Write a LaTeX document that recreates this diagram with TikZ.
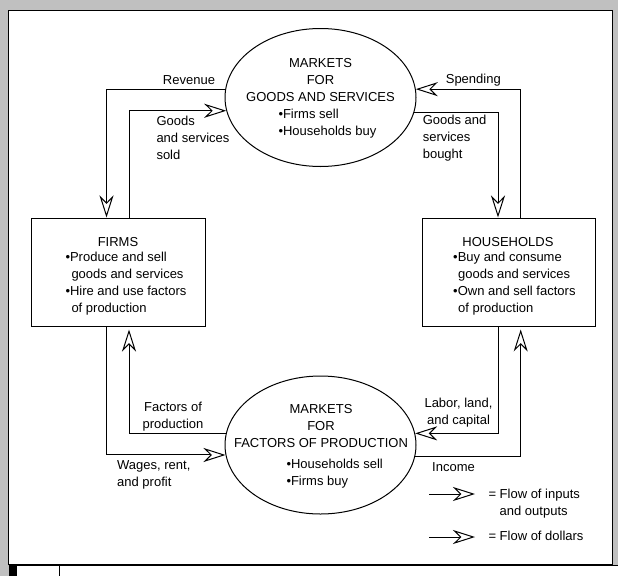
\documentclass[tikz,border=0pt]{standalone}
\usepackage{fontspec}
\setmainfont{Liberation Sans}
\usetikzlibrary{shapes.geometric,arrows.meta}
\definecolor{wingray}{RGB}{192,192,192}

\begin{document}
\begin{tikzpicture}[x=1pt,y=-1pt,line width=1pt,
		txt/.style={inner sep=0pt,font=\fontsize{13}{17}\selectfont},
		market/.style={ellipse,draw,inner sep=0pt,minimum width=191pt,minimum height=138pt},
		agent/.style={rectangle,draw,inner sep=0pt,minimum width=173.5pt,minimum height=108pt},
		flow/.style={-{Stealth[length=22pt,width=14pt,inset=7pt,fill=white]}}]
			\useasboundingbox (0,0) rectangle (618,576);
			\fill[wingray] (0,0) rectangle (618,576);
			\draw[fill=white] (8.5,10) rectangle (612,564);
			\fill[white] (8.5,565) rectangle (618,576);
			\draw (8.5,565) -- (618,565);
			\fill (8.5,565) rectangle (17,576);
			\draw (59,565) -- (59,576);

			% markets and agents
			\node[market] (goodsmk) at (320.5,97.5) {};
			\node[market] (factmk) at (320.5,445) {};
			\node[agent] (firms) at (118.25,272) {};
			\node[agent] (hh) at (509,272) {};

			\node[txt,align=center] (goodshd) at (320.5,80.5) {MARKETS\\FOR\\GOODS AND SERVICES};
			\node[txt,align=left,anchor=west] (goodsls) at (278,124) {•Firms sell\\•Households buy};
			\node[txt,align=center] (facthd) at (321,426.5) {MARKETS\\FOR\\FACTORS OF PRODUCTION};
			\node[txt,align=left,anchor=west] (factls) at (286,474) {•Households sell\\•Firms buy};

			\node[txt] (firmshd) at (118,242) {FIRMS};
			\node[txt,align=left,anchor=west] (firmsls) at (65,284) {•Produce and sell\\\hspace*{6pt}goods and services\\•Hire and use factors\\\hspace*{6pt}of production};
			\node[txt] (hhhd) at (508,242) {HOUSEHOLDS};
			\node[txt,align=left,anchor=west] (hhls) at (452.7,284) {•Buy and consume\\\hspace*{5pt}goods and services\\•Own and sell factors\\\hspace*{5pt}of production};

			% flow labels
			\node[txt] (revenue) at (189,80.5) {Revenue};
			\node[txt] (spending) at (473.3,80.5) {Spending};
			\node[txt,align=left,anchor=west] (sold) at (156,138) {Goods\\and services\\sold};
			\node[txt,align=left,anchor=west] (bought) at (422.3,138) {Goods and\\services\\bought};
			\node[txt,align=center] (factors) at (173,417) {Factors of\\production};
			\node[txt,align=center] (labor) at (458.5,413) {Labor, land,\\and capital};
			\node[txt,align=left,anchor=west] (wages) at (116.7,475) {Wages, rent,\\and profit};
			\node[txt,anchor=west] (income) at (431.7,466.7) {Income};

			% loop lines
			\coordinate (lx1) at (106.5,0);
			\coordinate (lx2) at (129,0);
			\coordinate (rx1) at (498,0);
			\coordinate (rx2) at (520.7,0);

			\draw[flow] (goodsmk.175) -| (lx1 |- firms.north);
			\draw[flow] (lx2 |- firms.north) |- (goodsmk.188.5);
			\draw[flow] (goodsmk.351.5) -| (rx1 |- hh.north);
			\draw[flow] (rx2 |- hh.north) |- (goodsmk.5);
			\draw[flow,shorten >=3pt] (factmk.173) -| (lx2 |- firms.south);
			\draw[flow] (lx1 |- firms.south) |- (factmk.186.7);
			\draw[flow] (rx1 |- hh.south) |- (factmk.7);
			\draw[flow,shorten >=3pt] (factmk.353.3) -| (rx2 |- hh.south);

			% legend
			\coordinate (lgin) at (429,494);
			\coordinate (lginend) at (475,494);
			\coordinate (lgdol) at (429,537);
			\coordinate (lgdolend) at (475,537);
			\draw[flow] (lgin) -- (lginend);
			\draw[flow] (lgdol) -- (lgdolend);
			\node[txt,align=left,anchor=west] (lgintxt) at (488,504) {= Flow of inputs\\\phantom{= }and outputs};
			\node[txt,anchor=west] (lgdoltxt) at (488,535.5) {= Flow of dollars};
\end{tikzpicture}
\end{document}
